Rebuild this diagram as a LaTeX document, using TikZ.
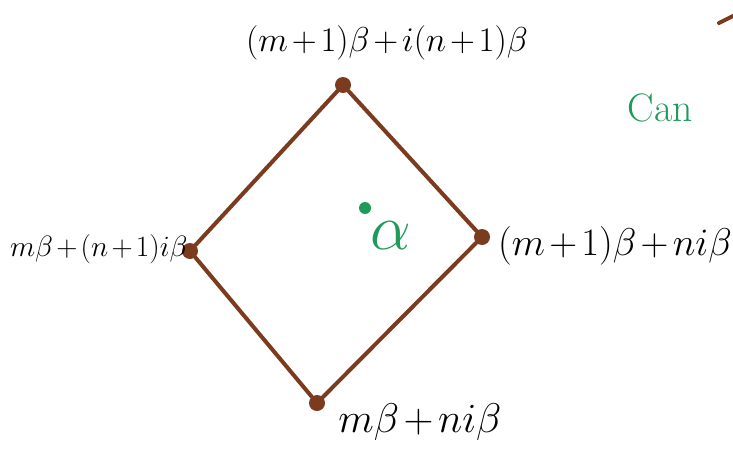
\documentclass[tikz,border=0pt]{standalone}
\usepackage{amsmath,amssymb}
\usepackage{xcolor}
\usetikzlibrary{positioning}

\definecolor{inkbrown}{HTML}{7A3B1E}
\definecolor{inkgreen}{HTML}{1E9A5A}
\medmuskip=2mu plus 1mu minus 1mu

\begin{document}
\begin{tikzpicture}[
    x=0.5pt, y=-0.5pt,
    every node/.style={font=\LARGE, inner sep=1pt},
    vertex/.style={circle, fill=inkbrown, inner sep=0pt, minimum size=8pt},
    vlabel/.style={text=black, transform shape},
    edge/.style={draw=inkbrown, line width=2pt, line cap=round},
    note/.style={text=inkgreen, transform shape}
]
    \useasboundingbox (0,0) rectangle (733,466);

    % corners of the square
    \node[vertex] (top) at (343,85) {};
    \node[vertex] (right) at (482,237) {};
    \node[vertex] (bottom) at (317,403) {};
    \node[vertex] (left) at (190,251) {};

    \node[vlabel, above=7pt of top, xshift=22pt] (toplbl) {$(m+1)\beta + i(n+1)\beta$};
    \node[vlabel, scale=1.12, right=2.5pt of right, yshift=-4pt] (rightlbl) {$(m+1)\beta + ni\beta$};
    \node[vlabel, scale=0.85, left=-4pt of left, yshift=1pt] (leftlbl) {$m\beta + (n+1)i\beta$};
    \node[vlabel, scale=1.2, right=5pt of bottom, yshift=-8pt] (bottomlbl) {$m\beta + ni\beta$};

    \draw[edge] (top) -- (right);
    \draw[edge] (right) -- (bottom);
    \draw[edge] (bottom) -- (left);
    \draw[edge] (left) -- (top);

    % green marks
    \node[circle, fill=inkgreen, inner sep=0pt, minimum size=6pt] (dot) at (365,208) {};
    \node[note, font=\Huge, scale=1.3] (alpha) at (391,236) {$\alpha$};
    \node[note, scale=1.15] (can) at (660,108) {Can};

    % stray stroke at the edge
    \coordinate (tickA) at (719,23);
    \coordinate (tickB) at (733,16);
    \draw[edge] (tickA) -- (tickB);
\end{tikzpicture}
\end{document}
